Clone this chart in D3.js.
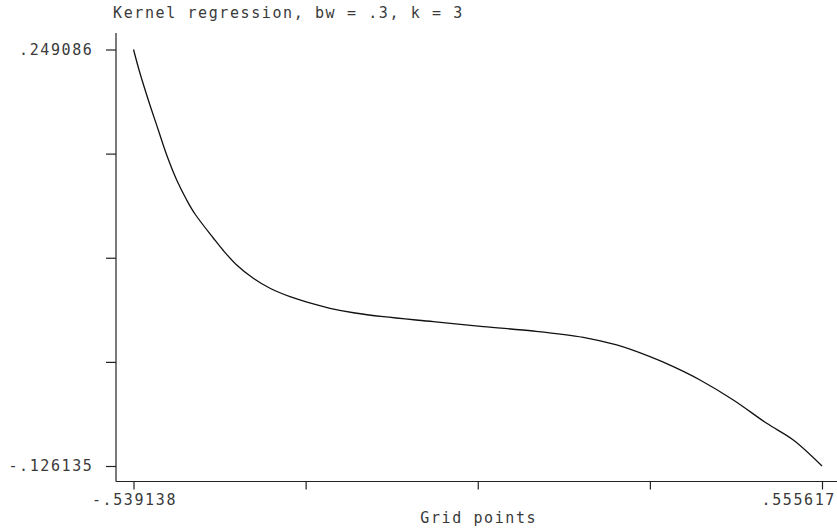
<!DOCTYPE html>
<html>
<head>
<meta charset="utf-8">
<script src="https://cdn.jsdelivr.net/npm/d3@7"></script>
<style>
  html, body { margin: 0; padding: 0; background: #fff; }
  svg { display: block; }
  text { font-family: "DejaVu Sans Mono", monospace; font-size: 15px; fill: #3a3a3a; letter-spacing: 1.6px; }
</style>
</head>
<body>
<svg id="chart" width="837" height="531"></svg>
<script>
// ---- data ----
const gridX = [-0.539138, -0.52880, -0.51561, -0.49971, -0.48635, -0.47045, -0.45455, -0.44135,
  -0.41225, -0.39635, -0.37505, -0.34865, -0.32210, -0.29030, -0.25325, -0.22669, -0.18694,
  -0.14194, -0.06244, 0.01706, 0.09657, 0.17607, 0.22918, 0.28213, 0.31918, 0.36163, 0.41458,
  0.46769, 0.50999, 0.555617];
const fitY = [0.249086, 0.22764, 0.20359, 0.17657, 0.15404, 0.13152, 0.11350, 0.10089,
  0.07927, 0.06801, 0.05495, 0.04297, 0.03396, 0.02639, 0.01981, 0.01594, 0.01171,
  0.00837, 0.00387, -0.00064, -0.00451, -0.01019, -0.01712, -0.02766, -0.03667, -0.04865, -0.06667,
  -0.08766, -0.10271, -0.126135];
const xTickLabels = ["-.539138", "", "", "", ".555617"];
const yTickLabels = ["-.126135", "", "", "", ".249086"];
const titleText = "Kernel regression, bw = .3, k = 3";
const xTitle = "Grid points";

const xMin = -0.539138, xMax = 0.555617, yMin = -0.126135, yMax = 0.249086;

// ---- layout ----
const svg = d3.select("#chart");
const axisX = 116, axisY = 481.5;
const x = d3.scaleLinear().domain([xMin, xMax]).range([133.5, 822]);
const y = d3.scaleLinear().domain([yMin, yMax]).range([466, 49.5]);

const xTicks = d3.range(5).map(i => xMin + i * (xMax - xMin) / 4);
const yTicks = d3.range(5).map(i => yMin + i * (yMax - yMin) / 4);

// axis lines
svg.append("line").attr("x1", axisX).attr("x2", axisX).attr("y1", 33).attr("y2", axisY)
  .attr("stroke", "#222").attr("stroke-width", 1.2);
svg.append("line").attr("x1", axisX).attr("x2", 837).attr("y1", axisY).attr("y2", axisY)
  .attr("stroke", "#222").attr("stroke-width", 1.2);

// ticks via d3 axes
const gy = svg.append("g").attr("transform", `translate(${axisX},0)`)
  .call(d3.axisLeft(y).tickValues(yTicks).tickSize(10).tickFormat(""));
const gx = svg.append("g").attr("transform", `translate(0,${axisY})`)
  .call(d3.axisBottom(x).tickValues(xTicks).tickSize(8).tickFormat(""));
[gy, gx].forEach(g => {
  g.select(".domain").remove();
  g.selectAll(".tick line").attr("stroke", "#222").attr("stroke-width", 1.2);
});

// y tick labels (ends only)
yTicks.forEach((v, i) => {
  if (!yTickLabels[i]) return;
  svg.append("text").attr("x", 93.5).attr("y", y(v)).attr("dy", "0.36em")
    .attr("text-anchor", "end").text(yTickLabels[i]);
});
// x tick labels
xTicks.forEach((v, i) => {
  if (!xTickLabels[i]) return;
  const t = svg.append("text").attr("y", 505).text(xTickLabels[i]);
  if (i === xTicks.length - 1) t.attr("x", 836).attr("text-anchor", "end");
  else t.attr("x", x(v) + 1).attr("text-anchor", "middle");
});

// titles
svg.append("text").attr("x", 113).attr("y", 18).text(titleText);
svg.append("text").attr("x", (x(xMin) + x(xMax)) / 2 + 1).attr("y", 523)
  .attr("text-anchor", "middle").text(xTitle);

// curve
const line = d3.line().x((d, i) => x(gridX[i])).y((d, i) => y(fitY[i])).curve(d3.curveCatmullRom.alpha(0.5));
svg.append("path").datum(fitY).attr("d", line)
  .attr("fill", "none").attr("stroke", "#111").attr("stroke-width", 1.3);
</script>
</body>
</html>
